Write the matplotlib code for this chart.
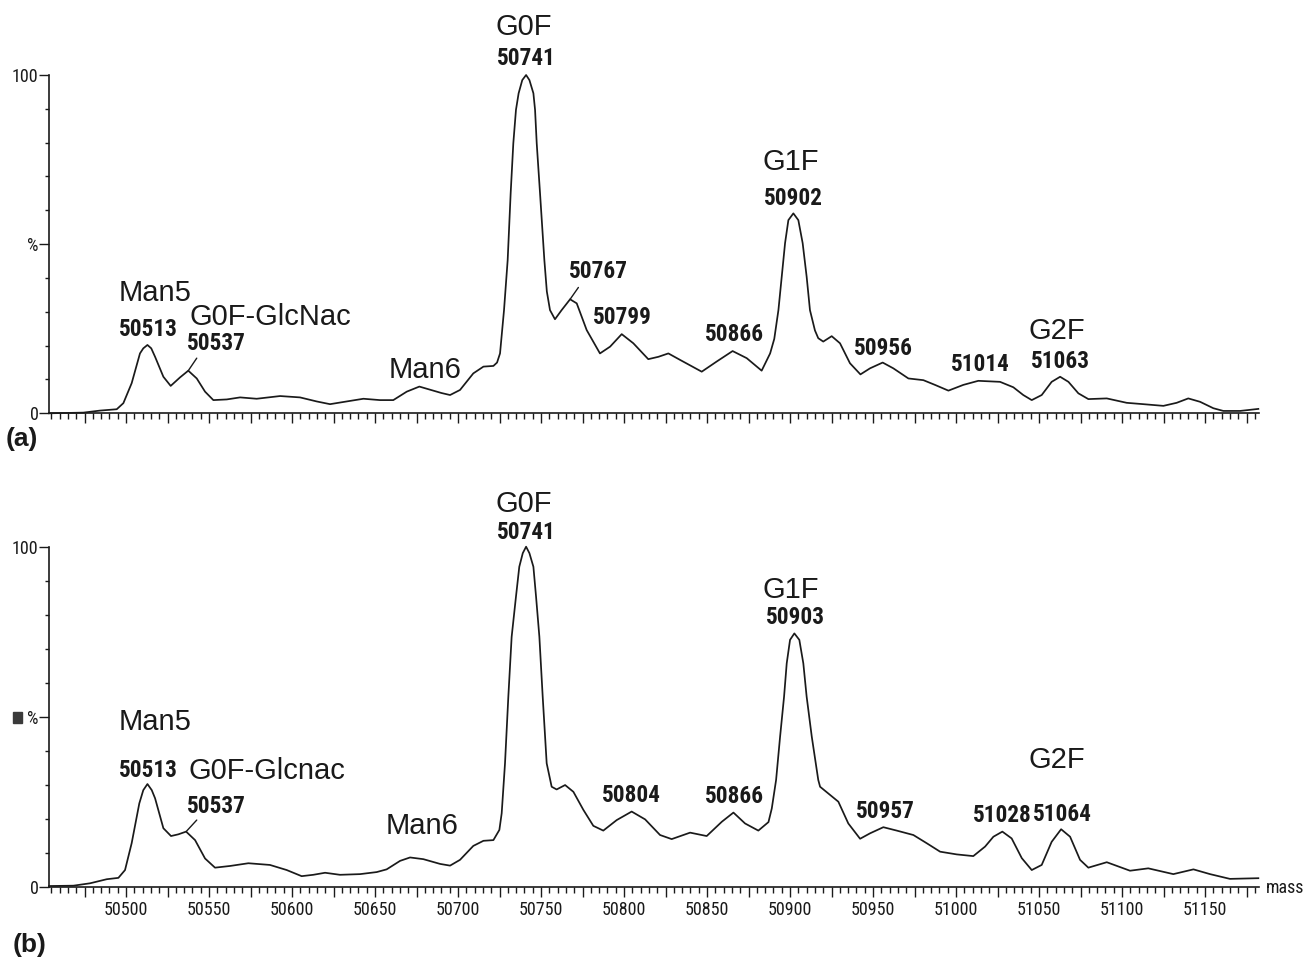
import numpy as np
import matplotlib
matplotlib.use("Agg")
import matplotlib.pyplot as plt
from matplotlib import font_manager
from matplotlib.font_manager import FontProperties
from matplotlib.ticker import FixedLocator, MultipleLocator, FuncFormatter

# deconvoluted mass spectra, intensity in % of base peak
mass_a = [50453.6, 50474.3, 50484.3, 50494.4, 50498.4, 50503.4, 50508.4, 50510.4,
          50512.9, 50515.2, 50517.5, 50522.5, 50526.9, 50532.5, 50537.5, 50542.6,
          50547.6, 50552.6, 50560.7, 50568.7, 50578.7, 50592.8, 50604.8, 50614.9,
          50622.9, 50632.9, 50643.0, 50653.0, 50661.0, 50669.1, 50676.7, 50685.1,
          50690.0, 50695.2, 50701.2, 50709.2, 50715.3, 50721.3, 50723.5, 50725.3,
          50727.7, 50729.9, 50731.7, 50733.3, 50734.9, 50736.5, 50738.7, 50741.0,
          50743.0, 50745.4, 50746.4, 50747.4, 50749.4, 50752.0, 50753.5, 50755.4,
          50758.4, 50762.4, 50767.5, 50771.5, 50777.5, 50785.5, 50791.6, 50798.6,
          50805.6, 50814.6, 50820.7, 50826.7, 50833.7, 50846.8, 50855.8, 50865.4,
          50873.9, 50882.9, 50888.0, 50890.5, 50893.0, 50895.0, 50897.0, 50899.0,
          50902.0, 50905.0, 50907.6, 50910.0, 50912.0, 50915.0, 50917.0, 50920.0,
          50925.1, 50930.1, 50936.1, 50942.4, 50948.2, 50955.8, 50962.2, 50971.3,
          50980.3, 50987.3, 50995.4, 51004.4, 51013.4, 51026.5, 51034.5, 51040.5,
          51045.6, 51051.6, 51057.6, 51062.7, 51067.7, 51073.7, 51079.7, 51090.8,
          51102.8, 51112.8, 51124.9, 51132.9, 51139.9, 51147.0, 51155.0, 51161.0,
          51171.1, 51182.1]
int_a = [0.0, 0.2, 0.8, 1.2, 3.0, 8.9, 17.7, 19.2,
         20.2, 19.2, 16.7, 10.8, 8.1, 10.6, 12.6, 10.3,
         6.4, 3.9, 4.1, 4.7, 4.3, 5.1, 4.7, 3.5,
         2.7, 3.5, 4.3, 3.9, 3.9, 6.4, 7.9, 6.7,
         6.0, 5.4, 6.9, 11.8, 13.8, 14.0, 15.0, 17.7,
         30.5, 45.3, 65.0, 79.8, 89.7, 94.6, 98.5, 100.0,
         98.5, 94.6, 89.7, 79.8, 65.0, 45.3, 36.0, 30.5,
         27.8, 30.5, 33.7, 32.5, 24.6, 17.7, 19.7, 23.4,
         20.7, 16.0, 16.7, 17.7, 15.8, 12.3, 15.3, 18.4,
         16.3, 12.6, 17.7, 22.0, 30.5, 40.4, 50.3, 57.1,
         59.1, 57.1, 50.3, 40.4, 30.5, 24.5, 22.2, 21.2,
         22.8, 20.7, 14.8, 11.5, 13.3, 15.0, 13.3, 10.3,
         9.8, 8.4, 6.7, 8.4, 9.6, 9.3, 7.7, 5.4,
         3.9, 5.4, 9.3, 10.8, 9.3, 5.9, 4.2, 4.4,
         3.1, 2.7, 2.2, 3.1, 4.4, 3.4, 1.5, 0.7,
         0.7, 1.3]

mass_b = [50453.6, 50468.3, 50478.3, 50488.4, 50495.4, 50499.4, 50503.4, 50508.0,
          50510.4, 50512.9, 50515.5, 50517.5, 50522.5, 50527.1, 50531.5, 50536.2,
          50541.6, 50547.6, 50553.6, 50562.7, 50573.7, 50586.7, 50596.8, 50605.8,
          50612.8, 50619.9, 50628.9, 50641.0, 50651.0, 50657.0, 50665.1, 50671.1,
          50679.1, 50689.2, 50695.2, 50701.2, 50709.2, 50715.3, 50721.3, 50724.9,
          50726.3, 50728.3, 50730.3, 50732.3, 50734.9, 50736.9, 50739.0, 50741.0,
          50743.0, 50745.4, 50747.0, 50749.0, 50751.0, 50753.4, 50756.4, 50759.4,
          50764.5, 50769.5, 50775.5, 50781.5, 50787.5, 50795.6, 50804.6, 50812.7,
          50821.7, 50828.7, 50839.8, 50849.8, 50858.9, 50865.9, 50872.9, 50880.9,
          50887.0, 50889.0, 50891.6, 50894.0, 50896.4, 50898.0, 50900.0, 50902.6,
          50905.6, 50908.0, 50910.0, 50913.1, 50917.0, 50918.1, 50924.1, 50929.1,
          50935.1, 50942.2, 50948.2, 50956.2, 50964.3, 50974.3, 50982.3, 50990.4,
          51000.4, 51010.4, 51017.5, 51022.5, 51027.9, 51033.5, 51039.6, 51045.6,
          51051.6, 51057.6, 51063.3, 51068.7, 51074.7, 51079.7, 51090.8, 51104.8,
          51115.8, 51130.9, 51143.0, 51153.0, 51165.0, 51182.1]
int_b = [0.2, 0.3, 1.0, 2.2, 2.6, 4.9, 12.8, 24.5,
         28.4, 30.2, 28.4, 26.0, 17.2, 14.9, 15.4, 16.2,
         13.7, 8.3, 5.6, 6.1, 6.9, 6.4, 4.9, 3.1,
         3.5, 4.1, 3.5, 3.7, 4.3, 5.1, 7.6, 8.6,
         8.1, 6.7, 6.2, 7.9, 12.0, 13.5, 13.7, 16.7,
         21.6, 36.3, 55.9, 73.5, 85.3, 94.1, 98.1, 100.0,
         98.1, 94.1, 85.3, 73.5, 55.9, 36.3, 29.4, 28.6,
         29.9, 27.9, 22.6, 17.9, 16.5, 19.6, 22.1, 19.8,
         15.2, 14.0, 15.9, 14.9, 19.1, 21.8, 18.6, 16.5,
         19.0, 23.0, 31.4, 44.1, 55.9, 65.7, 72.6, 74.5,
         72.6, 65.7, 55.9, 44.1, 31.4, 29.4, 27.0, 25.0,
         18.6, 14.1, 15.7, 17.5, 16.5, 15.2, 12.8, 10.3,
         9.5, 9.0, 11.8, 14.7, 16.2, 14.2, 8.4, 4.9,
         6.4, 13.2, 16.9, 14.7, 7.9, 5.6, 7.2, 4.7,
         5.4, 3.7, 5.1, 3.7, 2.3, 2.5]

# glycoform names and peak masses (text, mass, intensity where the text sits)
names_a = [("Man5", 50517.5, 35.6), ("G0F-GlcNac", 50586.7, 28.5), ("Man6", 50680.1, 12.8),
           ("G0F", 50739.8, 114.2), ("G1F", 50900.6, 74.3), ("G2F", 51060.8, 24.4)]
nums_a = [("50513", 50513.3, 24.9), ("50537", 50554.2, 20.5), ("50741", 50741.0, 105.0),
          ("50767", 50784.3, 41.8), ("50799", 50798.8, 28.2), ("50866", 50866.3, 23.2),
          ("50902", 50901.8, 63.6), ("50956", 50956.0, 19.3), ("51014", 51014.5, 14.3),
          ("51063", 51062.7, 15.2)]
leaders_a = [(50537.5, 50542.6, 16.3), (50767.5, 50772.5, 37.2)]

names_b = [("Man5", 50517.5, 48.4), ("G0F-Glcnac", 50584.9, 34.1), ("Man6", 50678.3, 17.9),
           ("G0F", 50739.8, 112.6), ("G1F", 50900.6, 87.3), ("G2F", 51060.8, 37.3)]
nums_b = [("50513", 50513.3, 34.3), ("50537", 50554.2, 23.7), ("50741", 50741.0, 104.3),
          ("50804", 50804.2, 26.7), ("50866", 50866.3, 26.4), ("50903", 50903.0, 79.3),
          ("50957", 50957.2, 22.0), ("51028", 51027.6, 20.8), ("51064", 51064.0, 21.1)]
leaders_b = [(50536.2, 50542.6, 19.6)]

SANS = "Liberation Sans"
INK = "#1a1a1a"


def narrow_file(bold):
    # look for an installed narrow / condensed sans face, best first
    best, best_score = None, -1
    for f in font_manager.fontManager.ttflist:
        name = f.name.lower()
        if not ("narrow" in name or "condensed" in name or "condensed" in str(f.stretch).lower()):
            continue
        if "serif" in name or "mono" in name or f.style != "normal":
            continue
        w = f.weight if isinstance(f.weight, (int, float)) else (700 if "bold" in str(f.weight) else 400)
        if (w >= 600) != bold:
            continue
        score = 4 * ("liberation" in name) + 3 * ("arial" in name) + 2 * ("roboto" in name) + ("sans" in name)
        if score > best_score:
            best, best_score = f.fname, score
    return best


W, H = 1303, 959
fig = plt.figure(figsize=(W / 100, H / 100), dpi=100)
renderer = fig.canvas.get_renderer()


def fitted(fname, weight, size, sample, target_px):
    fp = FontProperties(fname=fname, size=size) if fname else FontProperties(family=SANS, weight=weight, size=size)
    t = fig.text(0, 0, sample, fontproperties=fp)
    w = t.get_window_extent(renderer).width
    t.remove()
    if w > target_px:
        fp.set_size(size * target_px / w)
    return fp


fp_num = fitted(narrow_file(True), "bold", 18, "50513", 59)
fp_tick = fitted(narrow_file(False), "normal", 13, "50500", 45)
fp_name = FontProperties(family=SANS, size=21)
fp_tag = FontProperties(family=SANS, weight="bold", size=19)

xmin, xmax = 50453.6, 51182.5


def panel(bottom_px, top_px, mass, inten, names, nums, leaders, show_labels):
    ax = fig.add_axes([49 / W, 1 - bottom_px / H, (1259 - 49) / W, (bottom_px - top_px) / H])
    ax.plot(mass, inten, color=INK, lw=1.25, clip_on=False, solid_joinstyle="round")
    ax.set_xlim(xmin, xmax)
    ax.set_ylim(0, 100)
    for s in ("top", "right"):
        ax.spines[s].set_visible(False)
    for s in ("left", "bottom"):
        ax.spines[s].set_linewidth(1.2)
        ax.spines[s].set_color(INK)

    ax.xaxis.set_major_locator(MultipleLocator(25))
    ax.xaxis.set_minor_locator(MultipleLocator(5))
    if show_labels:
        ax.xaxis.set_major_formatter(FuncFormatter(
            lambda v, p: f"{v:.0f}" if round(v) % 50 == 0 else ""))
    else:
        ax.xaxis.set_major_formatter(FuncFormatter(lambda v, p: ""))
    ax.yaxis.set_major_locator(FixedLocator([0, 50, 100]))
    ax.yaxis.set_minor_locator(MultipleLocator(10))
    ax.set_yticklabels(["0", "%", "100"])

    ax.tick_params(axis="x", which="major", direction="out", length=7, width=1, color=INK, pad=3.5)
    ax.tick_params(axis="x", which="minor", direction="out", length=4, width=1, color=INK)
    ax.tick_params(axis="y", which="major", direction="out", length=7, width=1, color=INK, pad=0.5)
    ax.tick_params(axis="y", which="minor", direction="out", length=3, width=1, color=INK)
    for lab in ax.get_xticklabels() + ax.get_yticklabels():
        lab.set_fontproperties(fp_tick)
        lab.set_color(INK)

    for txt, x, y in names:
        ax.text(x, y, txt, ha="center", va="center", fontproperties=fp_name, color=INK)
    for txt, x, y in nums:
        ax.text(x, y, txt, ha="center", va="center", fontproperties=fp_num, color=INK)
    m = np.array(mass)
    for peak, tx, ty in leaders:
        i = int(np.argmin(abs(m - peak)))
        ax.annotate("", xy=(mass[i], inten[i]), xytext=(tx, ty),
                    arrowprops=dict(arrowstyle="-", color=INK, lw=1, shrinkA=0, shrinkB=0))
    return ax


ax_a = panel(413.3, 75, mass_a, int_a, names_a, nums_a, leaders_a, False)
ax_b = panel(886.7, 546.7, mass_b, int_b, names_b, nums_b, leaders_b, True)

ax_b.text(1.0058, -0.004, "mass", transform=ax_b.transAxes, ha="left", va="center",
          fontproperties=fp_tick, color=INK)
ax_b.add_patch(plt.Rectangle((-0.0295, 0.481), 0.0069, 0.034, transform=ax_b.transAxes,
                             color="#3a3a3a", clip_on=False))

fig.text(22 / W, 1 - 439 / H, "(a)", ha="center", va="center", fontproperties=fp_tag, color=INK)
fig.text(30 / W, 1 - 945 / H, "(b)", ha="center", va="center", fontproperties=fp_tag, color=INK)

fig.savefig("out.png", dpi=100)
